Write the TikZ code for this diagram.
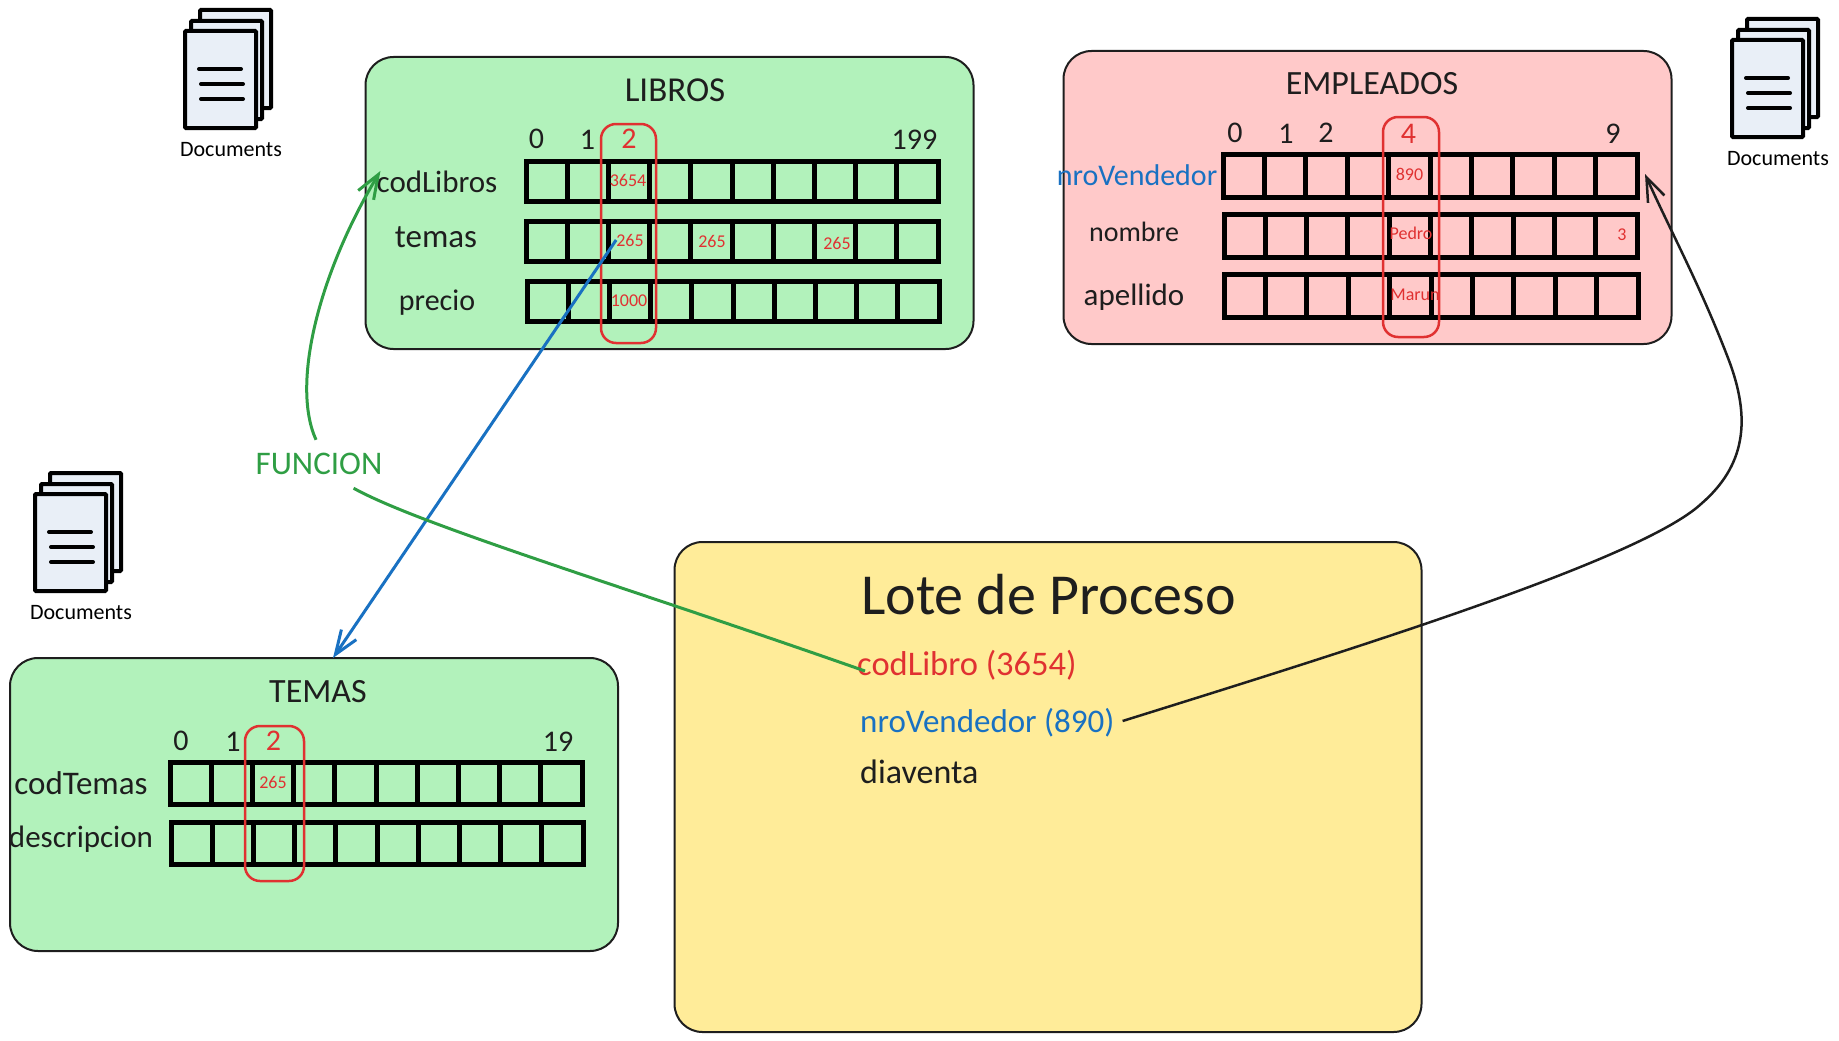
\documentclass[tikz,border=0pt]{standalone}
\usepackage{fontspec}
\setmainfont{Carlito}
\usetikzlibrary{calc}
\usetikzlibrary{arrows.meta}
\definecolor{trazo}{HTML}{1E1E1E}
\definecolor{verdefondo}{HTML}{B2F2BB}
\definecolor{rojofondo}{HTML}{FFC9C9}
\definecolor{amarillofondo}{HTML}{FFEC99}
\definecolor{rojo}{HTML}{E03131}
\definecolor{azul}{HTML}{1971C2}
\definecolor{verde}{HTML}{2F9E44}
\definecolor{hoja}{HTML}{E9EFF7}
\tikzstyle{caja}    =[draw=trazo, line width=2pt, rounded corners=28pt, inner sep=0pt]
\tikzstyle{marco}   =[draw=rojo, line width=2.5pt, rounded corners=15pt, inner sep=0pt]
\tikzstyle{grueso}  =[black, line width=5pt, line cap=butt]
\tikzstyle{icono}   =[black, line width=4pt, line cap=butt]
\tikzstyle{flecha}  =[line width=2.5pt, -{Straight Barb[length=24pt,width=18pt]}]
\tikzstyle{tam}     =[font=\fontsize{#1}{#1}\selectfont]
\tikzstyle{titulo}  =[text=trazo, inner sep=0pt, tam=35]
\tikzstyle{indice}  =[text=trazo, inner sep=0pt, tam=30]
\tikzstyle{campo}   =[text=trazo, inner sep=0pt, tam=30]
\tikzstyle{valor}   =[text=rojo, inner sep=0pt, tam=18]
\tikzstyle{lote}    =[inner sep=0pt, anchor=west]

%une fila de 10 casillas: x1,y1,x2,y2
\newcommand{\fila}[4]{
  \draw[grueso] (#1,#2) rectangle (#3,#4);
  \foreach \i in {1,...,9}
    \draw[grueso] ({#1+\i*(#3-#1)/10},#2) -- ({#1+\i*(#3-#1)/10},#4);
}

%el icono de documentos: x,y de la hoja delantera y nombre del texto
\newcommand{\documentos}[3]{
  \begin{scope}[xshift=#1pt,yshift=-#2pt]
  \draw[icono,fill=hoja,rounded corners=1pt] (17,-19) rectangle (88,79);
  \draw[icono,fill=hoja,rounded corners=1pt] (8,-8) rectangle (79,90);
  \draw[icono,fill=hoja,rounded corners=1pt] (2,2) rectangle (73,99);
  \draw[icono,line cap=round] (16,40)--(58,40);
  \draw[icono,line cap=round] (18,55)--(60,55);
  \draw[icono,line cap=round] (18,70)--(60,70);
  \node[inner sep=0pt,tam=22] (#3) at (48,120.5) {Documents};
  \end{scope}
}

\begin{document}
\begin{tikzpicture}[x=1pt,y=-1pt]
\useasboundingbox (0,0) rectangle (1839,1041);

%las cajas de fondo
\node[caja,fill=verdefondo,minimum width=608pt,minimum height=292pt] (libros) at (669.5,203) {};
\node[caja,fill=rojofondo,minimum width=608pt,minimum height=293pt] (empleados) at (1367.5,197.5) {};
\node[caja,fill=verdefondo,minimum width=608pt,minimum height=293pt] (temas) at (314,804.5) {};
\node[caja,fill=amarillofondo,minimum width=747pt,minimum height=490pt] (proceso) at (1048,787) {};

%los iconos
\documentos{183}{29}{doclibros}
\documentos{33}{492}{doctemas}
\documentos{1730}{38}{docempleados}

%tabla LIBROS
\node[titulo] (titlibros) at (675,90) {LIBROS};
\fila{526}{161}{938}{201}
\fila{526}{221}{938}{261}
\fila{527}{281}{939}{321}
\node[indice] (l0) at (536.5,139) {0};
\node[indice] (l1) at (587.5,140) {1};
\node[indice,text=rojo] (l2) at (629,139) {2};
\node[indice] (l199) at (914.5,140) {199};
\node[campo,tam=31] (codlibros) at (437,182) {codLibros};
\node[campo,tam=33] (temaslibros) at (436,237) {temas};
\node[campo] (precio) at (437,303) {precio};
\node[valor] (v3654) at (628,180) {3654};
\node[valor] (v265a) at (630,240) {265};
\node[valor] (v265b) at (712,241) {265};
\node[valor] (v265c) at (837,243) {265};
\node[valor] (v1000) at (629,301) {1000};
\node[marco,minimum width=55pt,minimum height=219pt] (marcolibros) at (628.5,233.5) {};

%tabla EMPLEADOS
\node[titulo,tam=34] (titempleados) at (1372,84) {EMPLEADOS};
\fila{1223}{154}{1637}{197}
\fila{1224}{214}{1637}{257}
\fila{1224}{274}{1638}{317}
\node[indice] (e0) at (1235,133) {0};
\node[indice] (e1) at (1286,134) {1};
\node[indice] (e2) at (1326,133) {2};
\node[indice,text=rojo] (e4) at (1408.5,134) {4};
\node[indice] (e9) at (1613,134) {9};
\node[campo,text=azul] (nrovendedor) at (1137,175) {nroVendedor};
\node[campo,tam=28] (nombre) at (1134,232) {nombre};
\node[campo,tam=31] (apellido) at (1134,297) {apellido};
\node[valor] (v890) at (1409.5,174) {890};
\node[valor] (vpedro) at (1411,233) {Pedro};
\node[valor] (v3) at (1622,235) {3};
\node[valor] (vmarun) at (1415,295) {Marun};
\node[marco,minimum width=56pt,minimum height=220pt] (marcoempleados) at (1411,227) {};

%tabla TEMAS
\node[titulo,tam=34] (tittemas) at (318,692) {TEMAS};
\fila{170}{762}{582}{804}
\fila{171}{822}{583}{864}
\node[indice] (t0) at (181,741) {0};
\node[indice] (t1) at (233,742) {1};
\node[indice,text=rojo] (t2) at (273.5,741) {2};
\node[indice] (t19) at (558,742) {19};
\node[campo,tam=33] (codtemas) at (81,783) {codTemas};
\node[campo,tam=31] (descripcion) at (81,839) {descripcion};
\node[valor] (v265t) at (273,782) {265};
\node[marco,minimum width=59pt,minimum height=155pt] (marcotemas) at (274.5,803.5) {};

%lote de proceso
\node[lote,tam=58,text=trazo] (titproceso) at (861,595) {Lote de Proceso};
\node[lote,tam=34.5,text=rojo] (lotecod) at (857,665) {codLibro (3654)};
\node[lote,tam=33,text=azul] (lotenro) at (860,723) {nroVendedor (890)};
\node[lote,tam=34,text=trazo] (lotedia) at (860,772) {diaventa};

%las flechas
\node[text=verde,inner sep=0pt,minimum width=125pt,minimum height=48pt,tam=33] (funcion) at (319,464) {FUNCION};
\coordinate (puntatemas) at (333,658);
\coordinate (puntaempleados) at (1645,174);

\draw[flecha,azul,line width=3pt] (v265a.west) -- (puntatemas);
\draw[flecha,verde,line width=3pt] (funcion.97) .. controls (291,385) and (318,275) .. ([xshift=4pt]codlibros.north west);
\draw[line width=3pt,verde] (funcion.-35) .. controls (420,525) and (620,585) .. ([xshift=8pt,yshift=-6pt]lotecod.west);
\draw[flecha,trazo] ([xshift=8pt,yshift=2pt]lotenro.east) .. controls (1350,650) and (1640,560) .. (1701,504)
  .. controls (1745,466) and (1752,420) .. (1728,358) .. controls (1700,285) and (1670,230) .. (puntaempleados);

\end{tikzpicture}
\end{document}
